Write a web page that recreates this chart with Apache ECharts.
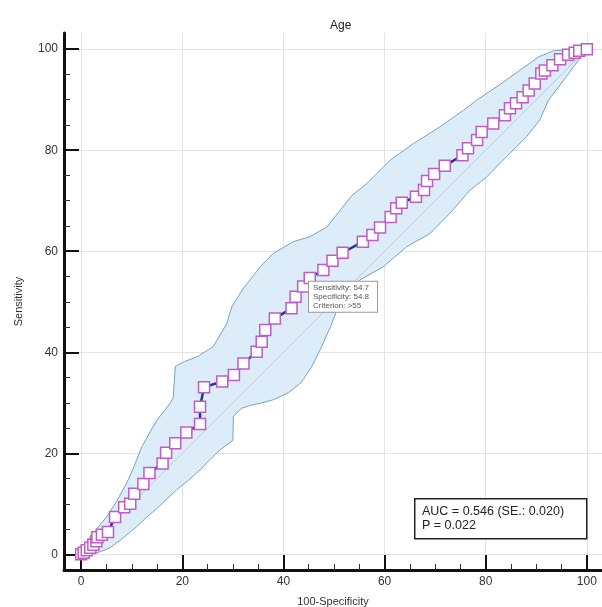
<!DOCTYPE html>
<html><head><meta charset="utf-8">
<script src="https://cdn.jsdelivr.net/npm/echarts@6/dist/echarts.min.js"></script>
<style>html,body{margin:0;padding:0;background:#fff}#c{width:602px;height:607px}</style>
</head><body><div id="c"></div>
<script>
const chartTitle = 'Age';
const xName = '100-Specificity';
const yName = 'Sensitivity';
const majorTicks = [0, 20, 40, 60, 80, 100];
const minorTicks = [5, 10, 15, 25, 30, 35, 45, 50, 55, 65, 70, 75, 85, 90, 95];

// ROC curve: x = 100-Specificity, y = Sensitivity
const rocX = [0, 0.5, 1.1, 1.8, 2.4, 3.0, 3.2, 4.1, 5.3, 6.7, 8.5, 9.7, 10.5, 12.3, 13.5, 16.1, 16.8, 18.6, 20.8, 23.5, 23.5, 24.3, 27.9, 30.2, 32.1, 34.7, 35.7, 36.4, 38.3, 41.6, 42.4, 43.9, 45.2, 47.9, 49.7, 51.7, 55.7, 57.6, 59.1, 61.2, 62.3, 63.4, 66.2, 67.8, 68.4, 69.8, 71.9, 75.4, 76.5, 78.3, 79.2, 81.5, 83.8, 84.8, 86.0, 87.3, 88.5, 89.7, 91.0, 91.7, 93.2, 94.7, 96.3, 97.6, 98.5, 100];
const rocY = [0, 0.3, 0.8, 1.3, 1.9, 2.6, 3.4, 3.9, 4.4, 7.4, 9.3, 10.0, 12.0, 13.9, 16.1, 18.0, 20.1, 22.0, 24.1, 25.8, 29.2, 33.1, 34.2, 35.5, 37.8, 40.1, 42.1, 44.4, 46.7, 48.7, 51.0, 53.0, 54.7, 56.3, 58.1, 59.7, 61.9, 63.2, 64.7, 66.8, 68.5, 69.6, 70.8, 72.1, 73.9, 75.3, 76.9, 79.0, 80.4, 82.0, 83.6, 85.3, 86.9, 88.3, 89.3, 90.5, 91.8, 93.2, 95.2, 95.8, 96.8, 98.0, 98.9, 99.3, 99.7, 100];

// 95% confidence bounds
const upperX = [0, 1.5, 3.2, 5.1, 7, 9, 10.5, 12, 13.5, 15, 16.5, 17.6, 18.2, 18.6, 20.5, 22.9, 26.1, 28.8, 29.8, 32.1, 35.4, 38, 42, 45.3, 48.6, 51.2, 53.5, 56.5, 61.1, 65.7, 70.9, 75.6, 78.2, 82.8, 87, 90.5, 93.5, 100];
const upperY = [0, 3.0, 5.2, 7.5, 10.5, 14.1, 17.5, 21.3, 24, 26.6, 28.5, 29.9, 31, 37.2, 38.2, 39.1, 41.1, 45.7, 49.0, 52.7, 56.9, 59.6, 61.9, 62.9, 64.8, 68.1, 71, 73.4, 78, 81.3, 84.6, 87.9, 89.9, 93, 96, 98.5, 99.7, 100];
const lowerX = [0, 2.4, 4, 5.7, 8, 11, 13, 15, 17, 18.9, 21, 23.5, 25.5, 27.5, 30.0, 30.1, 31.7, 33.5, 35.4, 38, 41, 43.5, 45.5, 47.5, 49.5, 51.2, 55.1, 59.7, 64.4, 69, 72.9, 76.9, 80.2, 84.1, 88.1, 90.7, 92.4, 94.7, 97.6, 100];
const lowerY = [0, 0.1, 0.6, 1.3, 3, 5.5, 7.4, 9.1, 11, 12.8, 14.5, 16.7, 18.8, 20.7, 22.6, 27.3, 28.9, 29.5, 29.9, 30.6, 32, 34, 37, 41, 45.5, 50, 54.3, 56.9, 60.9, 63.5, 67.5, 72.1, 74.7, 78.7, 82.7, 86, 89.9, 92.9, 96.8, 100];

const diagX = [0, 100];
const diagY = [0, 100];

const cutSens = 54.7;
const cutSpec = 54.8;
const cutCriterion = '>55';
const aucLines = ['AUC = 0.546 (SE.: 0.020)', 'P = 0.022'];

const FONT = 'Arial, "Liberation Sans", Helvetica, sans-serif';
const zip = (xs, ys) => xs.map((x, i) => [x, ys[i]]);
const upper = zip(upperX, upperY);
const lower = zip(lowerX, lowerY);
const cutX = +(100 - cutSpec).toFixed(1);

const rocData = zip(rocX, rocY).map(p => {
  if (Math.abs(p[0] - cutX) < 0.05 && Math.abs(p[1] - cutSens) < 0.05) {
    return {
      value: p,
      label: {
        show: true,
        position: [5.5, 10],
        formatter: 'Sensitivity: ' + cutSens + '\nSpecificity: ' + cutSpec + '\nCriterion: ' + cutCriterion,
        backgroundColor: '#fff',
        borderColor: '#999',
        borderWidth: 1,
        padding: [2, 8, 1, 4],
        fontSize: 8,
        lineHeight: 9,
        color: '#555',
        fontFamily: FONT,
        align: 'left',
        verticalAlign: 'top'
      }
    };
  }
  return p;
});

const XMIN = -3.4, XMAX = 103, YMIN = -3.1, YMAX = 103.2;

const baseAxis = (name, min, max, pos, gap) => ({
  type: 'value', min: min, max: max, position: pos,
  name: name, nameLocation: 'middle', nameGap: gap,
  nameTextStyle: { fontSize: 11, color: '#333', fontFamily: FONT },
  axisLine: { show: true, onZero: false, lineStyle: { color: '#111', width: 3 } },
  axisTick: { show: true, inside: true, length: 15, customValues: majorTicks, lineStyle: { color: '#111', width: 2 } },
  axisLabel: { show: true, customValues: majorTicks, fontSize: 12, color: '#333', fontFamily: FONT, margin: 6 },
  splitLine: { show: true, lineStyle: { color: '#e3e3e3', width: 1 } },
  minorTick: { show: false }
});
const minorAxis = (min, max, pos) => ({
  type: 'value', min: min, max: max, position: pos, offset: 0,
  axisLine: { show: false, onZero: false },
  axisTick: { show: true, inside: true, length: 6, customValues: minorTicks, lineStyle: { color: '#333', width: 1 } },
  axisLabel: { show: false },
  splitLine: { show: false }
});

const chart = echarts.init(document.getElementById('c'), null, { renderer: 'canvas' });
chart.setOption({
  animation: false,
  backgroundColor: '#fff',
  title: {
    text: chartTitle, left: 325, top: 15,
    textStyle: { fontSize: 12, fontWeight: 'normal', color: '#222', fontFamily: FONT }
  },
  grid: { left: 64, right: 0, top: 33, bottom: 37, containLabel: false, outerBoundsMode: 'none' },
  xAxis: [baseAxis(xName, XMIN, XMAX, 'bottom', 26), minorAxis(XMIN, XMAX, 'bottom')],
  yAxis: [baseAxis(yName, YMIN, YMAX, 'left', 40), minorAxis(YMIN, YMAX, 'left')],
  series: [
    {
      type: 'custom', coordinateSystem: 'cartesian2d', xAxisIndex: 0, yAxisIndex: 0,
      data: [[0, 0]], silent: true, z: 1,
      renderItem: function (params, api) {
        const pts = upper.map(p => api.coord(p)).concat(lower.slice().reverse().map(p => api.coord(p)));
        return { type: 'polygon', shape: { points: pts }, style: { fill: '#dcecf9', stroke: '#7aa3c0', lineWidth: 1 } };
      }
    },
    {
      type: 'line', data: zip(diagX, diagY), symbol: 'none', silent: true, z: 2,
      lineStyle: { color: '#d8bcd4', width: 1 }
    },
    {
      type: 'line', data: rocData, z: 3,
      symbol: 'rect', symbolSize: 11, showAllSymbol: true,
      lineStyle: { color: '#1f3a8f', width: 2.5 },
      itemStyle: { color: '#fff', borderColor: '#c05cc6', borderWidth: 1.5 },
      emphasis: { disabled: true }
    }
  ],
  graphic: [
    { type: 'rect', left: 414, top: 498, z: 100, shape: { width: 172, height: 40 }, style: { fill: '#fff', stroke: '#222', lineWidth: 1.5 } },
    { type: 'text', left: 422, top: 505, z: 101, style: { text: aucLines.join('\n'), font: '12.5px ' + FONT, fill: '#222', lineHeight: 13.5 } }
  ]
});
</script>
</body></html>
